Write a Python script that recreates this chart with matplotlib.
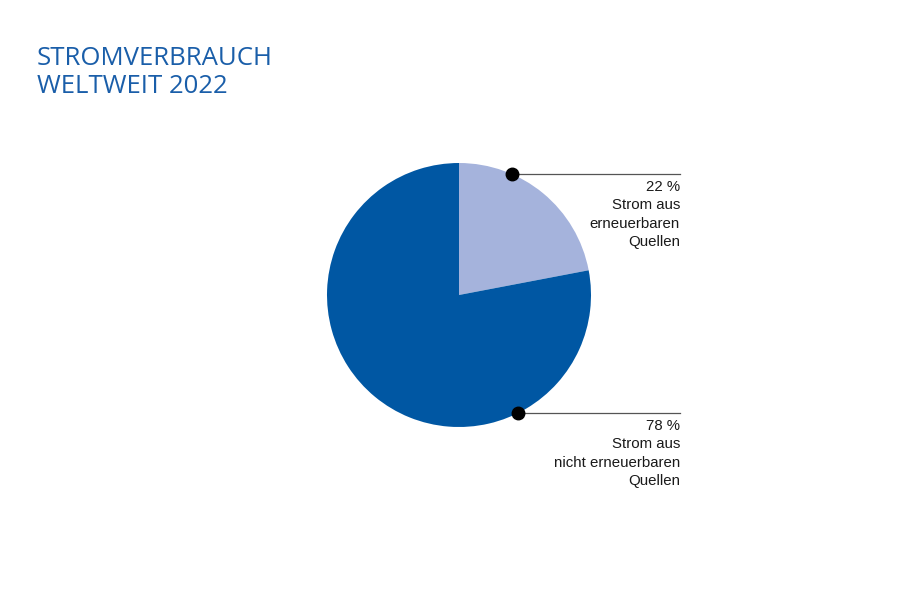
import matplotlib.pyplot as plt
import numpy as np

# data
shares = [22, 78]
labels = ["22 %\nStrom aus\nerneuerbaren\nQuellen",
          "78 %\nStrom aus\nnicht erneuerbaren\nQuellen"]
colors = ["#a5b3dc", "#0057a3"]
title = "STROMVERBRAUCH\nWELTWEIT 2022"

W, H = 913, 615
fig = plt.figure(figsize=(W / 100, H / 100), dpi=100)
ax = fig.add_axes([0, 0, 1, 1])

cx, cy, r = 459, H - 295, 132
ax.pie(shares, colors=colors, startangle=90, counterclock=False,
       center=(cx, cy), radius=r, frame=True,
       wedgeprops=dict(linewidth=0))
ax.set_xlim(0, W)
ax.set_ylim(0, H)
ax.set_aspect("equal")
ax.axis("off")

# marker angle (degrees clockwise from top) for each slice
marker_angles = [23.6, 153.3]
label_x = 680
for ang, lab in zip(marker_angles, labels):
    a = np.radians(ang)
    mx = cx + r * np.sin(a)
    my = cy + r * np.cos(a)
    ax.plot([mx, label_x], [my, my], color="#555555", lw=0.9, zorder=3)
    ax.plot(mx, my, "o", color="black", ms=9, zorder=4)
    ax.text(label_x, my - 6, lab, ha="right", va="top", fontsize=10.8,
            family="Liberation Sans", color="#1a1a1a", linespacing=1.4)

fig.text(37 / W, 1 - 46 / H, title, ha="left", va="top", fontsize=18.5,
         family="Open Sans", color="#1a5ea9", linespacing=1.18)

fig.savefig("out.png", dpi=100)
